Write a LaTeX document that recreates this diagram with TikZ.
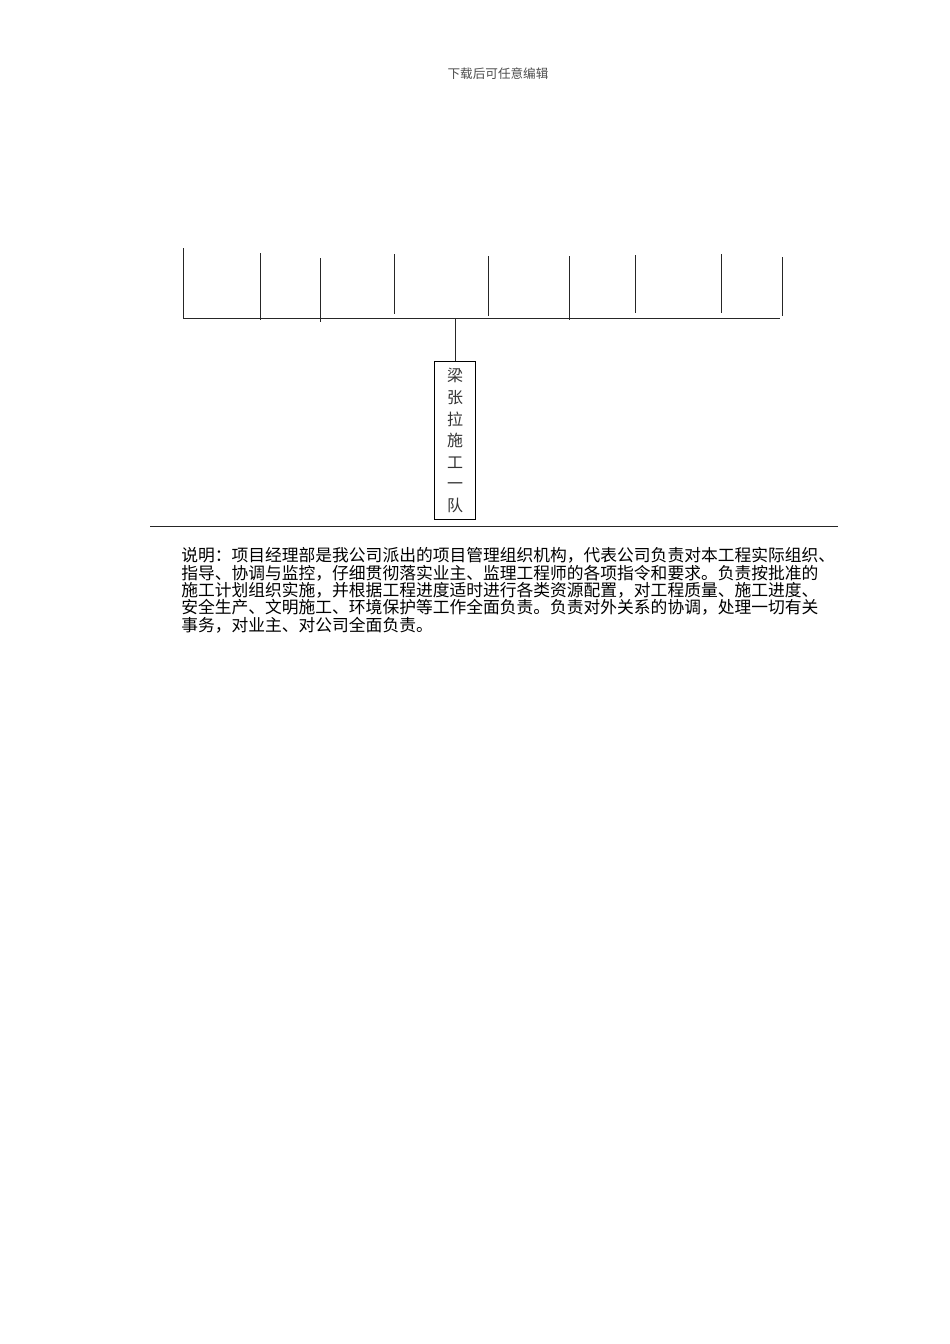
\documentclass[tikz,border=0pt]{standalone}
\usepackage{fontspec}
\newfontfamily\cjk{Noto Sans CJK SC}
\usepackage{xcolor}
\usepackage{tikz}
\usetikzlibrary{positioning}
\tikzset{
px/.style={x=0.6263pt,y=-0.6263pt},
rule/.style={line width=0.6pt,black!85},
teambox/.style={
  draw,line width=0.6pt,
  minimum width=25.7pt,minimum height=99pt,
  inner sep=0pt,align=center,
  font=\cjk\fontsize{10}{13.5}\selectfont,text=black!80
},
notetext/.style={
  inner sep=0pt,align=left,
  font=\cjk\fontsize{10.5}{10.95}\selectfont
},
headtext/.style={font=\cjk\fontsize{7.9}{9}\selectfont,text=black!70},
}

\begin{document}
\begin{tikzpicture}[px]
\useasboundingbox (0,0) rectangle (950,1344);
\node[headtext] (head) at (498,74) {下载后可任意编辑};
% the branch lines
\foreach \x/\t/\b in {183/248/318,260/253/320,320/258/322,394/254/314,
  488/256/316,569/256/320,635/255/313,721/254/313,782/257/316}
{
  \draw[rule] (\x,\t) -- (\x,\b);
}
\coordinate (busL) at (183,318);
\coordinate (busR) at (780,318);
\coordinate (busM) at (455,318);
\draw[rule] (busL) -- (busR);
% the team box
\node[teambox,anchor=north] (team) at (455,361)
  {梁\\张\\拉\\施\\工\\一\\队};
\draw[rule] (busM) -- (team.north);
% the divider
\coordinate (divL) at (150,526);
\coordinate (divR) at (838,526);
\draw[rule] (divL) -- (divR);
% the note
\node[notetext,anchor=north west] (note) at (181,547)
{说明：项目经理部是我公司派出的项目管理组织机构，代表公司负责对本工程实际组织、\\
指导、协调与监控，仔细贯彻落实业主、监理工程师的各项指令和要求。负责按批准的\\
施工计划组织实施，并根据工程进度适时进行各类资源配置，对工程质量、施工进度、\\
安全生产、文明施工、环境保护等工作全面负责。负责对外关系的协调，处理一切有关\\
事务，对业主、对公司全面负责。};
\end{tikzpicture}
\end{document}
